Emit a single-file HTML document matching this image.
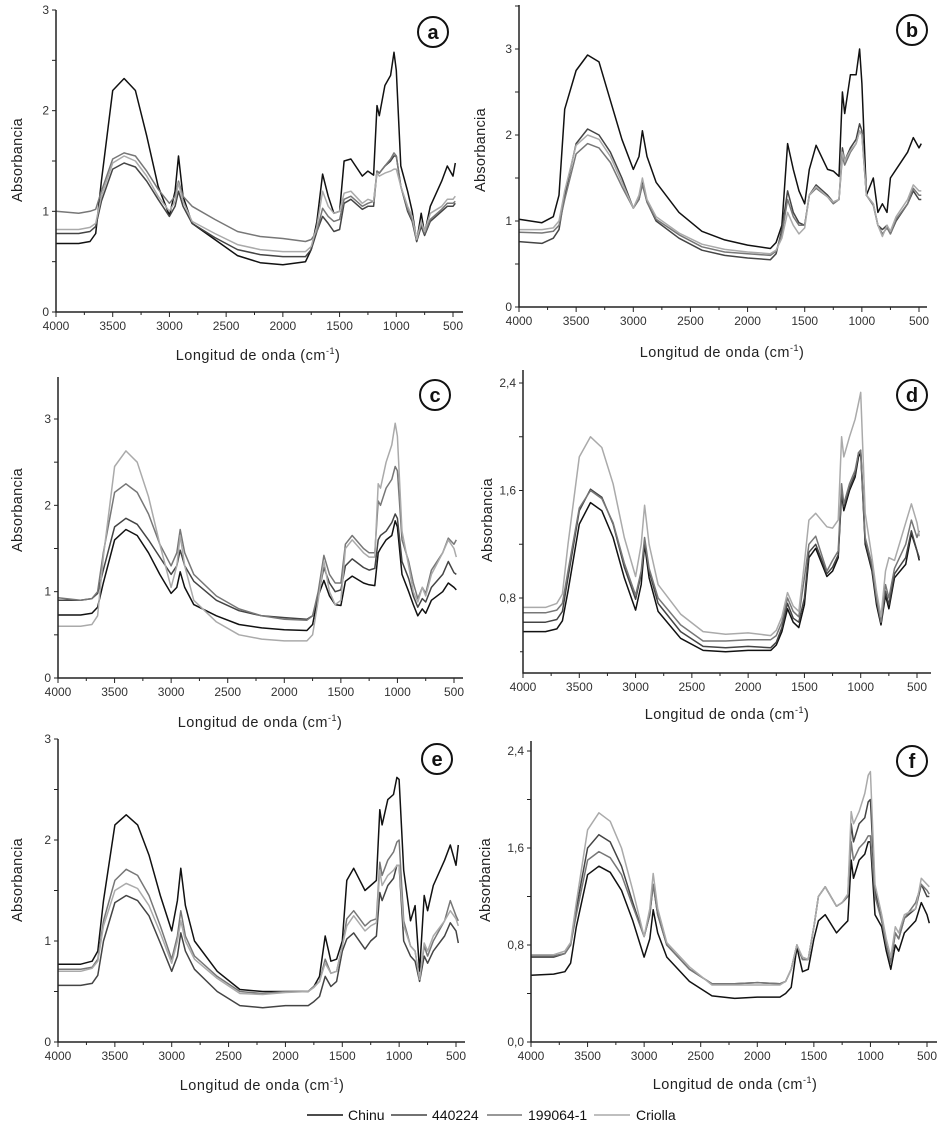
<!DOCTYPE html>
<html><head><meta charset="utf-8"><style>
html,body{margin:0;padding:0;background:#fff;}
svg{display:block;font-family:"Liberation Sans",Arial,sans-serif;}
</style></head><body>
<svg id="fig" width="948" height="1147" viewBox="0 0 948 1147">
<g id="legend">
  <line x1="307" y1="1115" x2="343" y2="1115" stroke="#111" stroke-width="1.5"/>
  <text x="348" y="1120" font-size="14" fill="#111">Chinu</text>
  <line x1="391" y1="1115" x2="427" y2="1115" stroke="#444" stroke-width="1.5"/>
  <text x="432" y="1120" font-size="14" fill="#111">440224</text>
  <line x1="487" y1="1115" x2="522" y2="1115" stroke="#777" stroke-width="1.5"/>
  <text x="528" y="1120" font-size="14" fill="#111">199064-1</text>
  <line x1="594" y1="1115" x2="630" y2="1115" stroke="#aaa" stroke-width="1.5"/>
  <text x="636" y="1120" font-size="14" fill="#111">Criolla</text>
</g>
</svg>
<script>
const wavenumbers=[4000,3800,3700,3650,3600,3500,3400,3300,3200,3100,3000,2950,2920,2880,2800,2600,2400,2200,2000,1800,1750,1700,1650,1600,1550,1500,1460,1400,1300,1250,1200,1170,1150,1100,1050,1020,1000,960,900,860,820,780,750,700,600,550,500,480];
const seriesNames=["Chinu","440224","199064-1","Criolla"];
const seriesColors=["#111","#444","#777","#aaa"];
const xTicks=[4000,3500,3000,2500,2000,1500,1000,500];
const yTicksA=[0,1,2,3];
const yTicksD=[0.8,1.6,2.4];
const yTicksF=[0,0.8,1.6,2.4];
const yTickLabelsA=["0","1","2","3"];
const yTickLabelsD=["0,8","1,6","2,4"];
const yTickLabelsF=["0,0","0,8","1,6","2,4"];

const aChinu=[0.68,0.68,0.7,0.78,1.3,2.2,2.32,2.2,1.75,1.25,0.96,1.2,1.55,1.15,0.88,0.72,0.56,0.49,0.47,0.5,0.62,0.9,1.37,1.15,0.98,1.0,1.5,1.52,1.35,1.4,1.36,2.05,1.95,2.25,2.35,2.58,2.4,1.45,1.2,1.0,0.7,0.98,0.78,1.05,1.3,1.45,1.35,1.48];
const a440224=[0.78,0.78,0.8,0.85,1.1,1.42,1.48,1.44,1.3,1.12,0.95,1.05,1.2,1.05,0.88,0.74,0.62,0.57,0.55,0.55,0.62,0.8,0.95,0.88,0.8,0.82,1.08,1.12,1.02,1.05,1.05,1.4,1.38,1.45,1.5,1.55,1.55,1.25,1.0,0.9,0.7,0.85,0.76,0.9,1.0,1.05,1.05,1.08];
const a199064=[1.0,0.98,1.0,1.02,1.2,1.52,1.58,1.55,1.4,1.22,1.08,1.15,1.3,1.15,1.05,0.92,0.8,0.75,0.73,0.7,0.72,0.8,1.03,0.95,0.9,0.92,1.12,1.15,1.05,1.08,1.1,1.4,1.38,1.45,1.52,1.58,1.55,1.25,1.02,0.92,0.72,0.88,0.78,0.92,1.02,1.08,1.08,1.1];
const aCriolla=[0.82,0.82,0.84,0.88,1.15,1.48,1.55,1.5,1.35,1.15,1.0,1.1,1.28,1.1,0.9,0.78,0.67,0.62,0.6,0.6,0.65,0.85,1.2,1.05,0.98,1.0,1.18,1.2,1.08,1.12,1.1,1.38,1.35,1.38,1.4,1.42,1.42,1.25,1.05,0.95,0.72,0.9,0.8,0.98,1.05,1.12,1.12,1.15];

const bChinu=[1.02,0.98,1.05,1.3,2.3,2.75,2.93,2.85,2.4,1.95,1.6,1.75,2.05,1.75,1.45,1.1,0.88,0.78,0.72,0.68,0.75,0.95,1.9,1.6,1.35,1.2,1.6,1.88,1.6,1.58,1.52,2.5,2.25,2.7,2.7,3.0,2.6,1.3,1.5,1.1,1.2,1.1,1.5,1.6,1.8,1.97,1.85,1.9];
const b440224=[0.76,0.74,0.8,0.9,1.3,1.9,2.07,2.0,1.8,1.5,1.15,1.25,1.45,1.22,1.0,0.8,0.66,0.6,0.57,0.55,0.62,0.9,1.35,1.1,0.98,0.95,1.3,1.42,1.3,1.22,1.25,1.85,1.7,1.85,1.95,2.13,2.05,1.3,1.2,0.95,0.9,0.95,0.85,1.0,1.2,1.35,1.25,1.25];
const b199064=[0.87,0.86,0.88,0.95,1.25,1.78,1.9,1.85,1.68,1.4,1.15,1.25,1.42,1.22,1.02,0.84,0.7,0.64,0.62,0.6,0.65,0.85,1.25,1.05,0.95,0.95,1.3,1.38,1.28,1.2,1.25,1.75,1.65,1.8,1.9,2.05,2.0,1.3,1.18,0.95,0.85,0.92,0.85,1.02,1.2,1.38,1.3,1.3];
const bCriolla=[0.9,0.9,0.92,1.0,1.35,1.88,2.0,1.95,1.75,1.45,1.15,1.3,1.5,1.25,1.05,0.86,0.73,0.67,0.64,0.62,0.66,0.8,1.1,0.95,0.85,0.92,1.3,1.4,1.28,1.22,1.25,1.8,1.7,1.82,1.9,2.05,2.0,1.3,1.2,0.95,0.82,0.95,0.88,1.05,1.25,1.42,1.35,1.35];

const cChinu=[0.73,0.73,0.75,0.82,1.1,1.6,1.72,1.65,1.45,1.2,0.98,1.05,1.23,1.05,0.85,0.72,0.62,0.58,0.56,0.55,0.62,0.95,1.13,0.95,0.85,0.84,1.12,1.18,1.1,1.08,1.07,1.45,1.5,1.6,1.65,1.82,1.75,1.2,1.0,0.85,0.72,0.8,0.75,0.9,1.0,1.1,1.05,1.02];
const c440224=[0.9,0.9,0.92,0.98,1.25,1.75,1.85,1.78,1.6,1.4,1.2,1.3,1.48,1.3,1.12,0.9,0.78,0.72,0.7,0.68,0.72,0.95,1.28,1.1,1.0,1.02,1.3,1.38,1.28,1.25,1.27,1.6,1.65,1.7,1.8,1.9,1.85,1.35,1.15,0.95,0.82,0.92,0.88,1.05,1.2,1.35,1.22,1.2];
const c199064=[0.93,0.9,0.92,1.0,1.45,2.15,2.25,2.15,1.9,1.55,1.3,1.45,1.72,1.45,1.2,0.95,0.8,0.72,0.68,0.67,0.72,1.0,1.42,1.2,1.1,1.1,1.55,1.65,1.5,1.45,1.45,2.05,2.0,2.2,2.3,2.45,2.4,1.6,1.35,1.1,0.92,1.05,0.98,1.25,1.45,1.62,1.55,1.6];
const cCriolla=[0.6,0.6,0.62,0.72,1.4,2.45,2.63,2.5,2.1,1.55,1.05,1.3,1.65,1.3,0.9,0.65,0.5,0.45,0.43,0.43,0.5,0.9,1.35,1.0,0.85,0.9,1.5,1.6,1.45,1.4,1.4,2.25,2.2,2.5,2.7,2.95,2.8,1.7,1.3,1.0,0.88,1.05,0.95,1.2,1.45,1.6,1.5,1.4];

const dChinu=[0.55,0.55,0.57,0.63,0.85,1.35,1.51,1.45,1.25,0.95,0.71,0.9,1.2,0.95,0.7,0.5,0.41,0.4,0.41,0.41,0.45,0.55,0.72,0.62,0.58,0.75,1.1,1.17,0.96,1.0,1.1,1.58,1.45,1.6,1.7,1.85,1.88,1.2,1.0,0.75,0.6,0.82,0.72,0.95,1.05,1.28,1.15,1.08];
const d440224=[0.62,0.62,0.64,0.7,0.95,1.45,1.61,1.55,1.35,1.03,0.79,0.98,1.22,1.0,0.76,0.55,0.44,0.43,0.44,0.43,0.47,0.58,0.76,0.65,0.62,0.8,1.14,1.2,0.98,1.03,1.12,1.6,1.48,1.62,1.72,1.88,1.9,1.22,1.02,0.78,0.62,0.85,0.75,0.98,1.1,1.3,1.15,1.1];
const d199064=[0.69,0.69,0.71,0.76,1.0,1.47,1.6,1.54,1.36,1.06,0.82,1.0,1.25,1.02,0.8,0.6,0.48,0.48,0.49,0.49,0.52,0.62,0.8,0.7,0.66,0.95,1.2,1.26,1.0,1.08,1.15,1.65,1.5,1.65,1.75,1.88,1.9,1.25,1.05,0.8,0.62,0.9,0.8,1.02,1.2,1.38,1.25,1.3];
const dCriolla=[0.73,0.73,0.76,0.83,1.2,1.85,2.0,1.92,1.65,1.25,0.96,1.2,1.49,1.2,0.9,0.68,0.55,0.53,0.54,0.52,0.56,0.66,0.84,0.74,0.7,1.06,1.38,1.43,1.33,1.32,1.38,2.0,1.85,2.0,2.13,2.25,2.33,1.43,1.1,0.85,0.66,1.0,1.1,1.08,1.36,1.5,1.36,1.26];

const eChinu=[0.77,0.77,0.8,0.9,1.4,2.15,2.25,2.15,1.85,1.45,1.1,1.4,1.72,1.35,1.0,0.7,0.52,0.5,0.5,0.5,0.55,0.65,1.05,0.8,0.82,1.0,1.6,1.72,1.5,1.55,1.6,2.3,2.15,2.4,2.45,2.62,2.6,1.7,1.2,1.35,0.7,1.45,1.3,1.55,1.8,1.95,1.75,1.95];
const e440224=[0.56,0.56,0.58,0.66,1.0,1.38,1.45,1.4,1.25,0.98,0.7,0.85,1.08,0.9,0.72,0.5,0.36,0.34,0.36,0.36,0.4,0.45,0.65,0.55,0.6,0.9,1.02,1.08,0.92,1.0,1.05,1.48,1.4,1.55,1.62,1.75,1.75,1.0,0.85,0.8,0.6,0.85,0.78,0.9,1.05,1.18,1.1,0.98];
const e199064=[0.72,0.72,0.74,0.82,1.2,1.6,1.71,1.65,1.45,1.15,0.82,1.05,1.3,1.05,0.85,0.65,0.5,0.48,0.5,0.5,0.55,0.6,0.82,0.68,0.7,0.95,1.22,1.3,1.15,1.2,1.22,1.78,1.65,1.8,1.88,1.98,2.0,1.2,0.95,0.9,0.62,0.95,0.85,1.0,1.2,1.4,1.25,1.2];
const eCriolla=[0.7,0.7,0.73,0.8,1.15,1.5,1.57,1.52,1.35,1.08,0.78,1.0,1.2,1.0,0.82,0.63,0.48,0.47,0.49,0.5,0.54,0.6,0.78,0.68,0.7,0.95,1.15,1.25,1.1,1.15,1.18,1.7,1.55,1.65,1.7,1.75,1.75,1.15,0.95,0.9,0.62,0.98,0.9,1.05,1.2,1.3,1.22,1.15];

const fChinu=[0.55,0.56,0.58,0.65,0.95,1.38,1.45,1.4,1.25,1.0,0.7,0.85,1.09,0.9,0.7,0.5,0.38,0.36,0.37,0.37,0.4,0.45,0.78,0.58,0.6,0.85,1.0,1.05,0.9,0.95,1.0,1.5,1.35,1.5,1.55,1.65,1.65,1.05,0.95,0.75,0.6,0.8,0.75,0.9,1.0,1.15,1.05,0.98];
const f440224=[0.7,0.7,0.73,0.8,1.1,1.6,1.71,1.65,1.45,1.15,0.87,1.05,1.3,1.05,0.8,0.6,0.48,0.48,0.49,0.48,0.5,0.6,0.8,0.68,0.68,0.95,1.2,1.28,1.12,1.15,1.2,1.8,1.65,1.8,1.85,1.98,2.0,1.25,1.0,0.8,0.65,0.9,0.85,1.02,1.1,1.3,1.2,1.2];
const f199064=[0.71,0.71,0.73,0.8,1.05,1.5,1.57,1.52,1.38,1.12,0.87,1.05,1.3,1.05,0.8,0.6,0.48,0.48,0.49,0.48,0.5,0.6,0.8,0.68,0.68,0.95,1.2,1.28,1.12,1.15,1.2,1.65,1.5,1.6,1.65,1.7,1.7,1.2,1.0,0.8,0.65,0.9,0.85,1.02,1.15,1.3,1.25,1.22];
const fCriolla=[0.72,0.72,0.75,0.82,1.15,1.75,1.89,1.82,1.6,1.25,0.87,1.1,1.39,1.1,0.82,0.62,0.47,0.47,0.47,0.47,0.5,0.6,0.8,0.7,0.68,0.95,1.2,1.28,1.12,1.15,1.22,1.9,1.8,1.9,2.05,2.2,2.23,1.3,1.05,0.85,0.7,0.95,0.9,1.05,1.1,1.35,1.3,1.28];

const panels=[
 {id:"a",x0:56,x1:453,xr:463,yv0:0,yp0:312,yv1:3,yp1:10,yTop:10,yBot:312,ticks:yTicksA,labels:yTickLabelsA,minor:0.5,data:[aChinu,a440224,a199064,aCriolla],ylx:18,yly:160,xlx:258,xly:360,cx:433,cy:32},
 {id:"b",x0:519,x1:919,xr:927,yv0:0,yp0:307,yv1:3,yp1:49,yTop:5,yBot:307,ticks:yTicksA,labels:yTickLabelsA,minor:0.5,data:[bChinu,b440224,b199064,bCriolla],ylx:481,yly:150,xlx:722,xly:357,cx:912,cy:30},
 {id:"c",x0:58,x1:454,xr:463,yv0:0,yp0:678,yv1:3,yp1:419,yTop:377,yBot:678,ticks:yTicksA,labels:yTickLabelsA,minor:0.5,data:[cChinu,c440224,c199064,cCriolla],ylx:18,yly:510,xlx:260,xly:727,cx:435,cy:395},
 {id:"d",x0:523,x1:917,xr:931,yv0:0.8,yp0:598,yv1:2.4,yp1:383,yTop:370,yBot:673,ticks:yTicksD,labels:yTickLabelsD,minor:0.4,data:[dChinu,d440224,d199064,dCriolla],ylx:488,yly:520,xlx:727,xly:719,cx:912,cy:395},
 {id:"e",x0:58,x1:456,xr:465,yv0:0,yp0:1042,yv1:3,yp1:739,yTop:739,yBot:1042,ticks:yTicksA,labels:yTickLabelsA,minor:0.5,data:[eChinu,e440224,e199064,eCriolla],ylx:18,yly:880,xlx:262,xly:1090,cx:437,cy:759},
 {id:"f",x0:531,x1:927,xr:937,yv0:0,yp0:1042,yv1:2.4,yp1:751,yTop:741,yBot:1042,ticks:yTicksF,labels:yTickLabelsF,minor:0.4,data:[fChinu,f440224,f199064,fCriolla],ylx:486,yly:880,xlx:735,xly:1089,cx:912,cy:761}
];
const NS="http://www.w3.org/2000/svg";
const svg=document.getElementById("fig");
function mk(tag,attrs,parent){const e=document.createElementNS(NS,tag);for(const k in attrs)e.setAttribute(k,attrs[k]);parent.appendChild(e);return e;}
panels.forEach(p=>{
 const xs=w=>p.x0+(4000-w)/(3500)*(p.x1-p.x0);
 const ys=v=>p.yp0+(v-p.yv0)/(p.yv1-p.yv0)*(p.yp1-p.yp0);
 const g=mk("g",{},svg);
 
 
 p.data.forEach((arr,si)=>{
  const pts=arr.map((v,i)=>xs(wavenumbers[i]).toFixed(1)+","+ys(v).toFixed(1)).join(" ");
  const pl=mk("polyline",{points:pts,fill:"none",stroke:seriesColors[si],"stroke-width":"1.5","stroke-linejoin":"round"},g);
  
  
 });
 const ax=mk("path",{d:`M${p.x0},${p.yTop}V${p.yBot}H${p.xr}`,fill:"none",stroke:"#222","stroke-width":"1.5"},g);
 
 
 for(let w=4000;w>=500;w-=250){
  const x=xs(w),major=(w%500===0);
  mk("line",{x1:x,y1:p.yBot,x2:x,y2:p.yBot+(major?5:3),stroke:"#222","stroke-width":"1"},g);
 }
 xTicks.forEach(w=>{
  const t=mk("text",{x:xs(w),y:p.yBot+18,"font-size":"12","text-anchor":"middle",fill:"#333"},g);
  t.textContent=w;
  
  
 });
 for(let v=p.ticks[0];ys(v)>=p.yTop-1;v+=p.minor){
  mk("line",{x1:p.x0,y1:ys(v),x2:p.x0-4,y2:ys(v),stroke:"#222","stroke-width":"1"},g);
 }
 for(let v=p.ticks[0]-p.minor;ys(v)<=p.yBot;v-=p.minor){
  mk("line",{x1:p.x0,y1:ys(v),x2:p.x0-3,y2:ys(v),stroke:"#222","stroke-width":"1"},g);
 }
 p.ticks.forEach((v,i)=>{
  const t=mk("text",{x:p.x0-7,y:ys(v)+4,"font-size":"12","text-anchor":"end",fill:"#333"},g);
  t.textContent=p.labels[i];
  
  
 });
 const yl=mk("text",{x:p.ylx,y:p.yly,"font-size":"14.5","text-anchor":"middle",fill:"#222",transform:`rotate(-90 ${p.ylx} ${p.yly})`,"dominant-baseline":"middle","letter-spacing":"0.3"},g);
 yl.textContent="Absorbancia";
 
 
 const xl=mk("text",{x:p.xlx,y:p.xly,"font-size":"14.5","text-anchor":"middle",fill:"#222","letter-spacing":"0.5"},g);
 xl.innerHTML='Longitud de onda (cm<tspan dy="-6" font-size="9">-1</tspan><tspan dy="6">)</tspan>';
 
 
 const c=mk("circle",{cx:p.cx,cy:p.cy,r:15,fill:"#fff",stroke:"#111","stroke-width":"2"},g);
 
 
 const lt=mk("text",{x:p.cx,y:p.cy+7,"font-size":"20","font-weight":"bold","text-anchor":"middle",fill:"#111"},g);
 lt.textContent=p.id;
 
 
});
</script>
</body></html>
